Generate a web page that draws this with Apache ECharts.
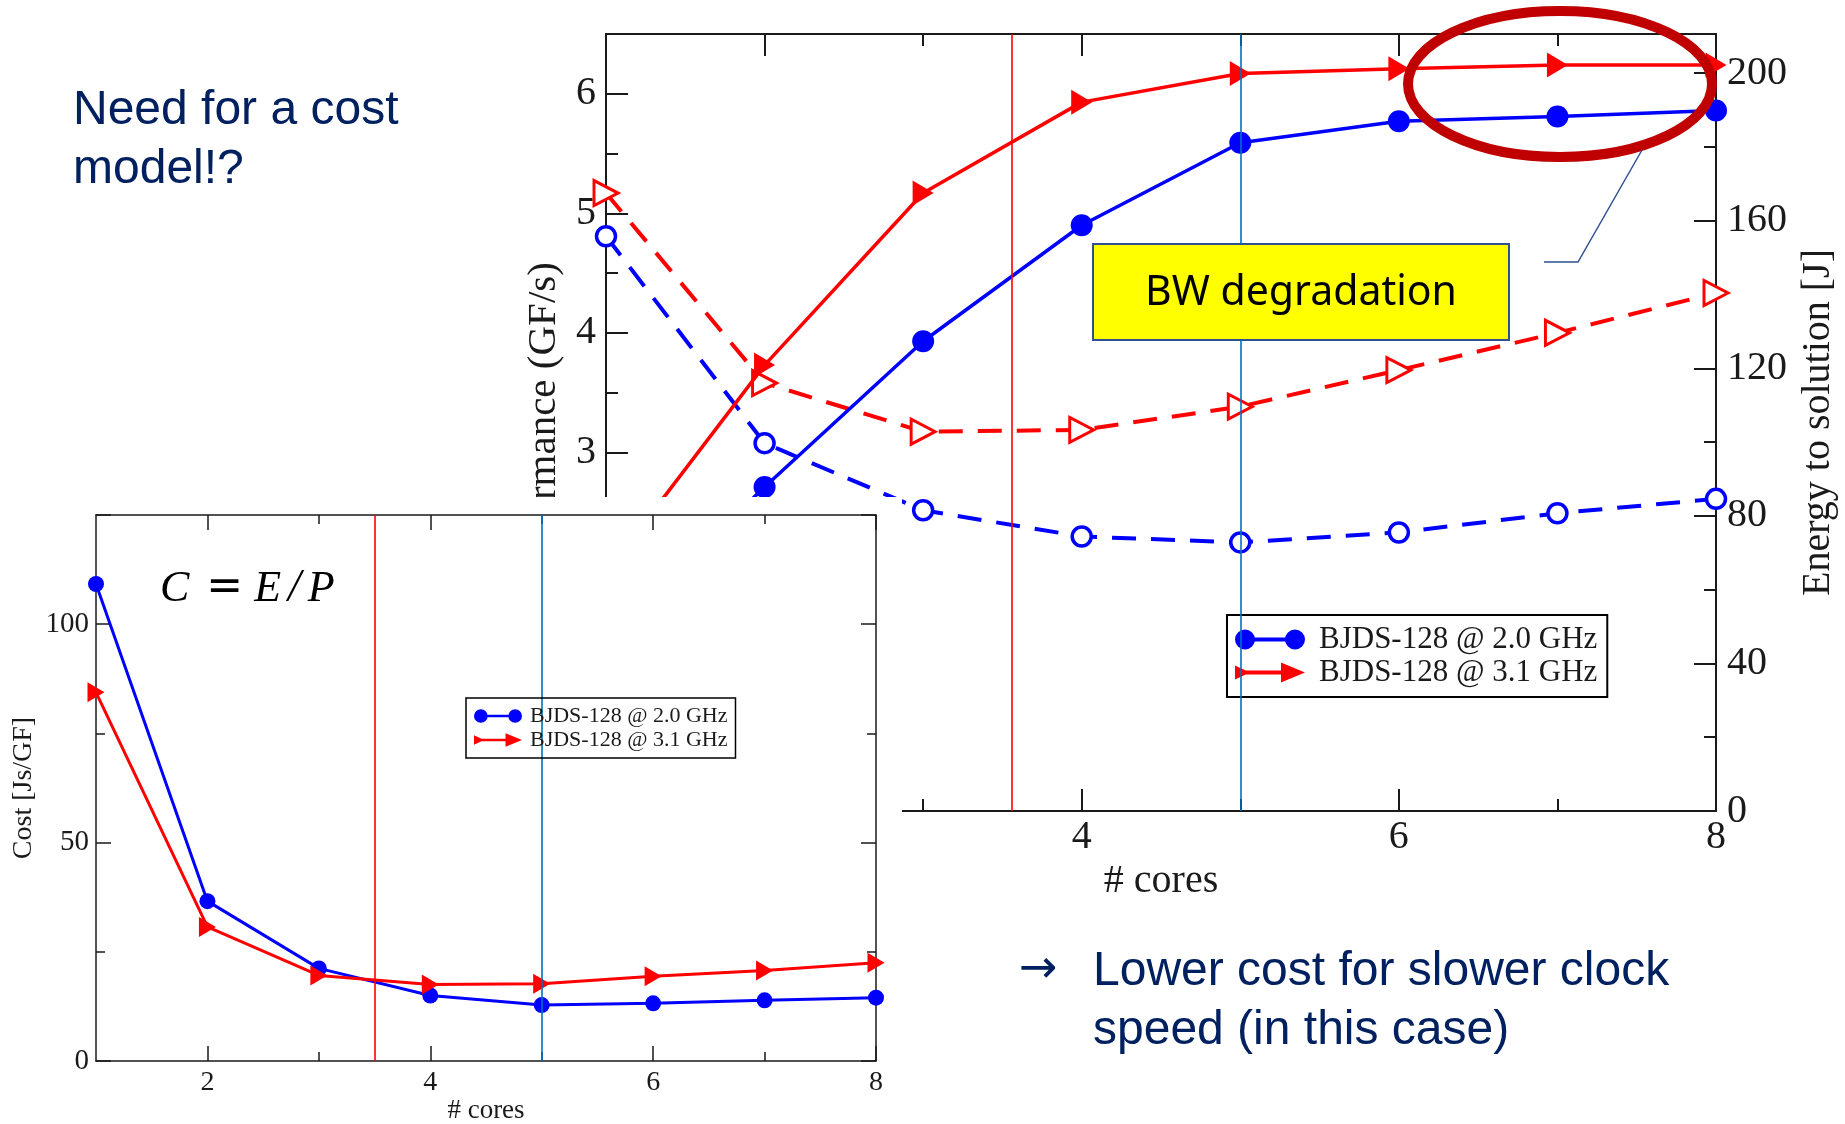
<!DOCTYPE html>
<html>
<head>
<meta charset="utf-8">
<script src="https://cdn.jsdelivr.net/npm/echarts@6/dist/echarts.min.js"></script>
<style>
  html, body { margin: 0; padding: 0; background: #fff; }
  #chart { width: 1845px; height: 1124px; }
</style>
</head>
<body>
<div id="chart"></div>
<script>
// ---- measurements: BJDS-128 kernel, 1..8 cores, two clock speeds ----
const cores = [1, 2, 3, 4, 5, 6, 7, 8];

// Performance (GF/s)
const perf20 = [1.43, 2.71, 3.93, 4.90, 5.59, 5.77, 5.81, 5.86];
const perf31 = [1.99, 3.73, 5.17, 5.93, 6.17, 6.21, 6.24, 6.24];

// Energy to solution (J)
const energy20 = [155.8, 99.7, 81.5, 74.4, 72.8, 75.5, 80.7, 84.6];
const energy31 = [167.5, 116.0, 102.8, 103.3, 109.6, 119.5, 129.6, 140.4];

// Cost C = E / P (Js/GF)
const cost20 = [109.2, 36.6, 21.2, 15.0, 12.8, 13.2, 13.9, 14.5];
const cost31 = [84.4, 30.7, 19.6, 17.5, 17.7, 19.4, 20.7, 22.5];

// Axis ticks
const majorCoreTicks = [2, 4, 6, 8];
const minorCoreTicks = [3, 5, 7];

// Vertical markers (core counts)
const mainMarkers = [3.56, 5];
const costMarkers = [3.5, 5];

const seriesNames = ['BJDS-128 @ 2.0 GHz', 'BJDS-128 @ 3.1 GHz'];

const BLUE = '#0000ff';
const RED = '#ff0000';
const MARK_BLUE = '#0070c0';
const INK = '#1a1a1a';
const SERIF = '"Liberation Serif", "Times New Roman", serif';
const NAVY = '#002060';
const DASH = [24, 15];

const pairs = (ys) => cores.map((c, i) => [c, ys[i]]);

function coreAxis(gridIndex, position, ticks, tickLen, lineW, showLine, label, extra) {
  return Object.assign({
    type: 'value', gridIndex, position, min: 1, max: 8, interval: 1,
    axisLine: { show: showLine, onZero: false, lineStyle: { color: INK, width: lineW } },
    axisTick: { show: true, inside: true, length: tickLen, customValues: ticks,
                lineStyle: { color: INK, width: lineW } },
    axisLabel: label ? Object.assign({ customValues: ticks, fontFamily: SERIF, color: INK }, label)
                     : { show: false },
    splitLine: { show: false }
  }, extra || {});
}

function markLines(values, zlevel) {
  return {
    silent: true, symbol: ['none', 'none'], zlevel, z: 5,
    label: { show: false },
    emphasis: { disabled: true },
    data: [
      { xAxis: values[0], lineStyle: { color: RED, width: 1.6, type: 'solid' } },
      { xAxis: values[1], lineStyle: { color: MARK_BLUE, width: 1.6, type: 'solid' } }
    ]
  };
}

const blueIcon = 'path://M0,10A10,10,0,1,1,20,10A10,10,0,1,1,0,10ZM16,8H54V12H16ZM50,10A10,10,0,1,1,70,10A10,10,0,1,1,50,10Z';
const redIcon = 'path://M0,3L15,10L0,17ZM10,8H52V12H10ZM46,0L70,10L46,20Z';

const chart = echarts.init(document.getElementById('chart'), null, { renderer: 'canvas' });

const option = {
  animation: false,
  backgroundColor: '#fff',
  textStyle: { fontFamily: SERIF },
  grid: [
    { left: 606, right: 129, top: 34, bottom: 313, containLabel: false, outerBoundsMode: 'none' },
    { left: 96, right: 969, top: 515, bottom: 63, containLabel: false, outerBoundsMode: 'none', zlevel: 1, z: 3 }
  ],
  xAxis: [
    coreAxis(0, 'bottom', majorCoreTicks, 22, 2, true,
      { fontSize: 40, margin: 6 },
      { name: '# cores', nameLocation: 'middle', nameGap: 43,
        nameTextStyle: { fontFamily: SERIF, fontSize: 40, color: INK } }),
    coreAxis(0, 'bottom', minorCoreTicks, 12, 2, false, null),
    coreAxis(0, 'top', majorCoreTicks, 22, 2, true, null),
    coreAxis(0, 'top', minorCoreTicks, 12, 2, false, null),
    coreAxis(1, 'bottom', majorCoreTicks, 15, 1.5, true,
      { fontSize: 28, margin: 8 },
      { name: '# cores', nameLocation: 'middle', nameGap: 35,
        nameTextStyle: { fontFamily: SERIF, fontSize: 27, color: INK }, zlevel: 1, z: 3 }),
    coreAxis(1, 'bottom', minorCoreTicks, 9, 1.5, false, null, { zlevel: 1, z: 3 }),
    coreAxis(1, 'top', majorCoreTicks, 15, 1.5, true, null, { zlevel: 1, z: 3 }),
    coreAxis(1, 'top', minorCoreTicks, 9, 1.5, false, null, { zlevel: 1, z: 3 })
  ],
  yAxis: [
    {
      type: 'value', gridIndex: 0, position: 'left', min: 0, max: 6.5, interval: 1,
      axisLine: { show: true, onZero: false, lineStyle: { color: INK, width: 2 } },
      axisTick: { show: true, inside: true, length: 22, lineStyle: { color: INK, width: 2 } },
      minorTick: { show: true, splitNumber: 2, length: 12, lineStyle: { color: INK, width: 2 } },
      axisLabel: { fontFamily: SERIF, fontSize: 40, color: INK, margin: 10, showMaxLabel: false,
                   formatter: (v) => (Number.isInteger(v) ? String(v) : '') },
      splitLine: { show: false }, minorSplitLine: { show: false },
      name: 'Performance (GF/s)', nameLocation: 'middle', nameRotate: 90, nameGap: 39,
      nameTextStyle: { fontFamily: SERIF, fontSize: 41, color: INK, padding: [0, 6, 0, 0] }
    },
    {
      type: 'value', gridIndex: 0, position: 'right', min: 0, max: 210.6, interval: 40,
      axisLine: { show: true, onZero: false, lineStyle: { color: INK, width: 2 } },
      axisTick: { show: true, inside: true, length: 22, lineStyle: { color: INK, width: 2 } },
      minorTick: { show: true, splitNumber: 2, length: 12, lineStyle: { color: INK, width: 2 } },
      axisLabel: { fontFamily: SERIF, fontSize: 40, color: INK, margin: 11, showMaxLabel: false,
                   formatter: (v) => (v % 40 === 0 ? String(v) : '') },
      splitLine: { show: false }, minorSplitLine: { show: false },
      name: 'Energy to solution [J]', nameLocation: 'middle', nameRotate: 90, nameGap: 82,
      nameTextStyle: { fontFamily: SERIF, fontSize: 40, color: INK }
    },
    {
      type: 'value', gridIndex: 1, position: 'left', min: 0, max: 125, interval: 50,
      zlevel: 1, z: 3,
      axisLine: { show: true, onZero: false, lineStyle: { color: INK, width: 1.5 } },
      axisTick: { show: true, inside: true, length: 15, lineStyle: { color: INK, width: 1.5 } },
      minorTick: { show: true, splitNumber: 2, length: 9, lineStyle: { color: INK, width: 1.5 } },
      axisLabel: { fontFamily: SERIF, fontSize: 29, color: INK, margin: 7, showMaxLabel: false },
      splitLine: { show: false }, minorSplitLine: { show: false },
      name: 'Cost [Js/GF]', nameLocation: 'middle', nameRotate: 90, nameGap: 58,
      nameTextStyle: { fontFamily: SERIF, fontSize: 28, color: INK }
    },
    {
      type: 'value', gridIndex: 1, position: 'right', min: 0, max: 125, interval: 50,
      zlevel: 1, z: 3,
      axisLine: { show: true, onZero: false, lineStyle: { color: INK, width: 1.5 } },
      axisTick: { show: true, inside: true, length: 15, lineStyle: { color: INK, width: 1.5 } },
      minorTick: { show: true, splitNumber: 2, length: 9, lineStyle: { color: INK, width: 1.5 } },
      axisLabel: { show: false },
      splitLine: { show: false }, minorSplitLine: { show: false }
    }
  ],
  legend: [
    {
      orient: 'vertical', left: 1227, top: 615, padding: [9, 10, 9, 8],
      itemWidth: 70, itemHeight: 23, itemGap: 2, symbolRotate: 0,
      borderColor: '#000', borderWidth: 2, backgroundColor: 'transparent',
      textStyle: { fontFamily: SERIF, fontSize: 31, color: INK, padding: [0, 0, 0, 9] },
      itemStyle: { borderWidth: 0 },
      selectedMode: false,
      data: [ { name: seriesNames[0], icon: blueIcon }, { name: seriesNames[1], icon: redIcon } ]
    },
    {
      orient: 'vertical', left: 466, top: 698, padding: [7, 8, 7, 8],
      itemWidth: 48, itemHeight: 16, itemGap: 2, symbolRotate: 0,
      borderColor: '#000', borderWidth: 1.5, backgroundColor: 'transparent',
      textStyle: { fontFamily: SERIF, fontSize: 22, color: INK, padding: [0, 0, 0, 3] },
      itemStyle: { borderWidth: 0 },
      selectedMode: false, zlevel: 1, z: 6,
      data: [ { name: seriesNames[0], icon: blueIcon }, { name: seriesNames[1], icon: redIcon } ]
    }
  ],
  series: [
    // performance, solid lines with filled markers
    {
      name: seriesNames[0], type: 'line', xAxisIndex: 0, yAxisIndex: 0, data: pairs(perf20),
      symbol: 'circle', symbolSize: 22, z: 3,
      lineStyle: { color: BLUE, width: 3.5 }, itemStyle: { color: BLUE, borderWidth: 0 },
      markLine: markLines(mainMarkers, 0)
    },
    {
      name: seriesNames[1], type: 'line', xAxisIndex: 0, yAxisIndex: 0, data: pairs(perf31),
      symbol: 'triangle', symbolRotate: -90, symbolSize: [25, 21], z: 3,
      lineStyle: { color: RED, width: 3.5 }, itemStyle: { color: RED, borderWidth: 0 }
    },
    // energy to solution, dashed lines with open markers
    {
      name: 'Energy @ 2.0 GHz', type: 'line', xAxisIndex: 0, yAxisIndex: 1, data: pairs(energy20),
      symbol: 'circle', symbolSize: 19, z: 2,
      lineStyle: { color: BLUE, width: 4, type: DASH },
      itemStyle: { color: '#fff', borderColor: BLUE, borderWidth: 3.5 }
    },
    {
      name: 'Energy @ 3.1 GHz', type: 'line', xAxisIndex: 0, yAxisIndex: 1, data: pairs(energy31),
      symbol: 'triangle', symbolRotate: -90, symbolSize: [25, 24], z: 2,
      lineStyle: { color: RED, width: 4, type: DASH },
      itemStyle: { color: '#fff', borderColor: RED, borderWidth: 3 }
    },
    // cost inset
    {
      name: seriesNames[0], type: 'line', xAxisIndex: 4, yAxisIndex: 2, data: pairs(cost20),
      symbol: 'circle', symbolSize: 16, zlevel: 1, z: 4,
      lineStyle: { color: BLUE, width: 3 }, itemStyle: { color: BLUE, borderWidth: 0 },
      markLine: markLines(costMarkers, 1)
    },
    {
      name: seriesNames[1], type: 'line', xAxisIndex: 4, yAxisIndex: 2, data: pairs(cost31),
      symbol: 'triangle', symbolRotate: -90, symbolSize: [20, 17], zlevel: 1, z: 4,
      lineStyle: { color: RED, width: 3 }, itemStyle: { color: RED, borderWidth: 0 }
    }
  ],
  graphic: [
    // white panel under the cost inset
    { type: 'rect', zlevel: 1, z: 0, silent: true,
      shape: { x: 0, y: 497, width: 902, height: 627 }, style: { fill: '#fff' } },
    // headline
    { type: 'text', zlevel: 2, x: 73, y: 81, silent: true,
      style: { text: 'Need for a cost\nmodel!?', font: '48px "Liberation Sans", Arial, sans-serif',
               fill: NAVY, lineHeight: 59, verticalAlign: 'top', align: 'left' } },
    // conclusion
    { type: 'text', zlevel: 2, x: 1019, y: 970, silent: true,
      style: { text: '\u2192', font: '46px "DejaVu Sans", sans-serif', fill: NAVY,
               verticalAlign: 'middle', align: 'left' } },
    { type: 'text', zlevel: 2, x: 1093, y: 942, silent: true,
      style: { text: 'Lower cost for slower clock\nspeed (in this case)',
               font: '48px "Liberation Sans", Arial, sans-serif',
               fill: NAVY, lineHeight: 59, verticalAlign: 'top', align: 'left' } },
    // annotation: bandwidth degradation
    { type: 'ellipse', zlevel: 2, silent: true,
      shape: { cx: 1560, cy: 84, rx: 152, ry: 73 },
      style: { fill: 'none', stroke: '#c00000', lineWidth: 10 } },
    { type: 'polyline', zlevel: 2, silent: true,
      shape: { points: [[1642, 150], [1578, 262], [1544, 262]] },
      style: { fill: 'none', stroke: '#2f528f', lineWidth: 1.5 } },
    { type: 'rect', zlevel: 2, silent: true,
      shape: { x: 1093, y: 244, width: 416, height: 96 },
      style: { fill: '#ffff00', stroke: '#2f528f', lineWidth: 2 } },
    { type: 'text', zlevel: 2, x: 1301, y: 293, silent: true,
      style: { text: 'BW degradation', font: '41px "Noto Sans", "Open Sans", sans-serif',
               fill: '#000', align: 'center', verticalAlign: 'middle' } },
    // cost model formula
    { type: 'text', zlevel: 2, x: 160, y: 589, silent: true,
      style: {
        text: '{i|C}{n|=}{i|E}{s|/}{i|P}', verticalAlign: 'middle', align: 'left',
        rich: {
          i: { fontFamily: SERIF, fontStyle: 'italic', fontSize: 44, fill: '#000' },
          s: { fontFamily: SERIF, fontStyle: 'italic', fontSize: 46, fill: '#000', padding: [0, 7, 0, 7] },
          n: { fontFamily: '"DejaVu Sans", sans-serif', fontSize: 44, fill: '#000', padding: [0, 11, 0, 17] }
        }
      } }
  ]
};

chart.setOption(option);
</script>
</body>
</html>
